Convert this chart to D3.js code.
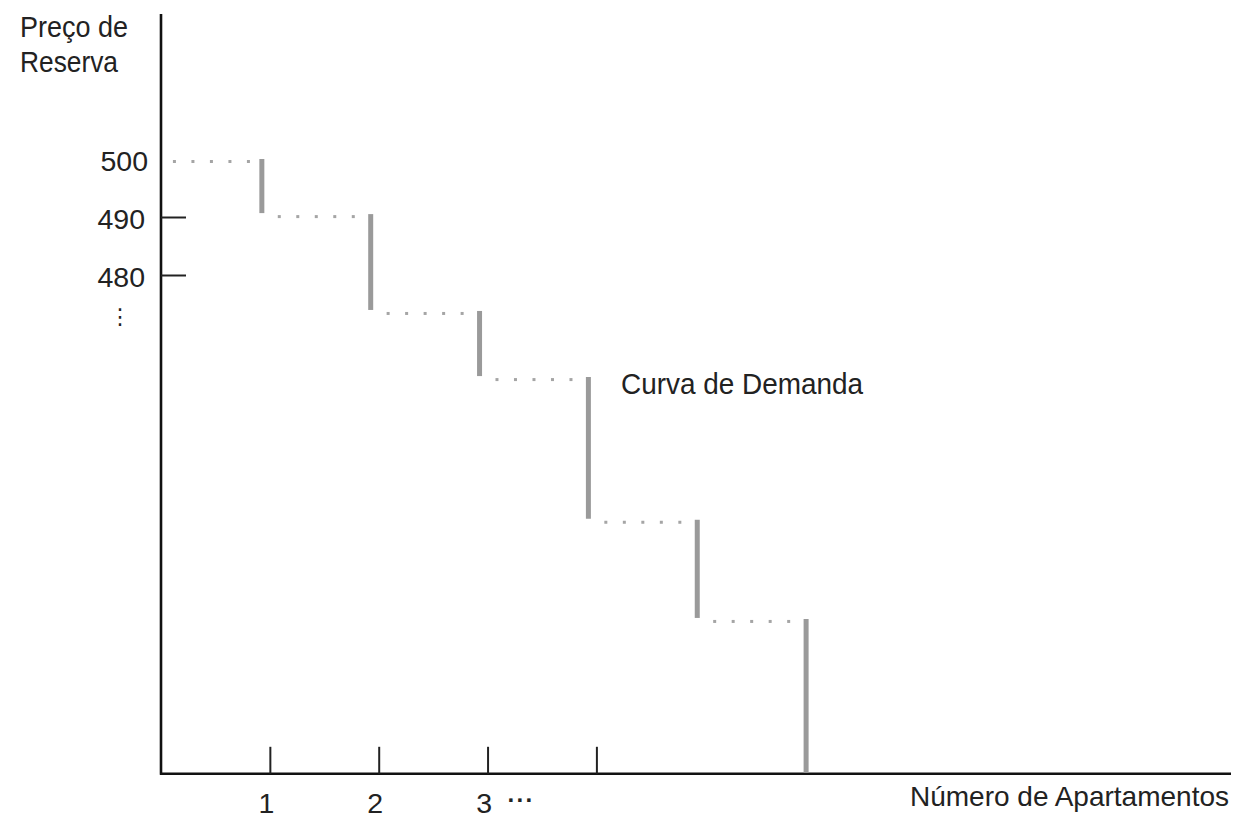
<!DOCTYPE html>
<html>
<head>
<meta charset="utf-8">
<script src="https://cdn.jsdelivr.net/npm/d3@7"></script>
<style>
  html, body { margin: 0; padding: 0; background: #fff; }
  svg { display: block; }
  text { font-family: "Liberation Sans", Arial, Helvetica, sans-serif; fill: #222; }
</style>
</head>
<body>
<svg id="chart" width="1244" height="821"></svg>
<script>
// ---- data ----
const apartments = [1, 2, 3, 4, 5, 6];                       // step positions (number of apartments)
const reservePrices = [500, 490.5, 473.8, 462.4, 437.8, 420.7]; // price level of each step
const priceFloor = 394;                                       // price at the horizontal axis
const priceTop = 525;                                         // price at top of vertical axis
const yTickValues = [500, 490, 480];
const yTickMarks = [490, 480];
const xTickValues = [1, 2, 3, 4];
const xTickLabels = ["1", "2", "3", ""];
const yAxisTitle = ["Preço de", "Reserva"];
const xAxisTitle = "Número de Apartamentos";
const curveLabel = "Curva de Demanda";

// ---- scales ----
const svg = d3.select("#chart");
const x = d3.scaleLinear().domain([0, 9.83]).range([161, 1231]);
const y = d3.scaleLinear().domain([480, 500]).range([275, 159]);
const x0 = x(0), yBase = y(priceFloor);
const barShift = -8;
const fs = 30, tfs = 28.5;

// ---- axes lines ----
svg.append("line").attr("x1", x0).attr("x2", x0).attr("y1", y(priceTop)).attr("y2", yBase + 1)
  .attr("stroke", "#111").attr("stroke-width", 2.6);
svg.append("line").attr("x1", x0 - 1).attr("x2", x(9.83)).attr("y1", yBase).attr("y2", yBase)
  .attr("stroke", "#111").attr("stroke-width", 2.6);

// ---- y axis ticks ----
const yAxis = d3.axisLeft(y).tickValues(yTickValues).tickSize(-25).tickPadding(16)
  .tickFormat(d3.format("d"));
const gy = svg.append("g").attr("transform", `translate(${x0},0)`).call(yAxis);
gy.select(".domain").remove();
gy.selectAll(".tick line").attr("stroke", "#222").attr("stroke-width", 2)
  .filter(d => !yTickMarks.includes(d)).remove();
gy.selectAll(".tick text").attr("font-size", tfs).attr("font-family", null).attr("fill", "#222")
  .attr("dy", "0.42em").attr("dx", d => d === 500 ? 3 : 0);

// vertical ellipsis under y labels
svg.append("text").attr("x", 120).attr("y", 324).attr("text-anchor", "middle")
  .attr("font-size", 22).style("font-family", "'DejaVu Sans', sans-serif").attr("fill", "#555").text("⋮");

// ---- x axis ticks ----
const xAxis = d3.axisBottom(x).tickValues(xTickValues).tickSize(-27).tickPadding(19)
  .tickFormat((d, i) => xTickLabels[i]);
const gx = svg.append("g").attr("transform", `translate(0,${yBase})`).call(xAxis);
gx.select(".domain").remove();
gx.selectAll(".tick line").attr("stroke", "#222").attr("stroke-width", 2);
gx.selectAll(".tick text").attr("font-size", tfs).attr("font-family", null).attr("fill", "#222").attr("dx", -4);
svg.append("text").attr("x", x(3) + 20).attr("y", yBase + 34).attr("font-size", 24)
  .attr("font-weight", "bold").attr("fill", "#555").attr("letter-spacing", 1).text("···");

// ---- demand curve: vertical bars ----
const steps = apartments.map((a, i) => ({
  a, top: reservePrices[i],
  bottom: i + 1 < reservePrices.length ? reservePrices[i + 1] : priceFloor
}));
svg.append("g").selectAll("line").data(steps).join("line")
  .attr("x1", d => x(d.a) + barShift).attr("x2", d => x(d.a) + barShift)
  .attr("y1", d => y(d.top)).attr("y2", d => y(d.bottom) - 1)
  .attr("stroke", "#9a9a9a").attr("stroke-width", 5);

// ---- demand curve: dotted horizontal segments ----
const segs = reservePrices.map((p, i) => ({
  p, xa: i === 0 ? x0 : x(apartments[i - 1]) + barShift, xb: x(apartments[i]) + barShift
}));
const dots = [];
segs.forEach(s => {
  const mid = (s.xa + s.xb) / 2;
  d3.range(-2, 3).forEach(k => dots.push({ cx: mid + k * 18.5, p: s.p }));
});
svg.append("g").selectAll("rect").data(dots).join("rect")
  .attr("x", d => d.cx - 1.5).attr("y", d => y(d.p) + 1).attr("width", 3).attr("height", 3)
  .attr("fill", "#a5a5a5");

// ---- labels ----
function label(txt, xx, yy, len, anchor) {
  return svg.append("text").attr("x", xx).attr("y", yy).attr("font-size", fs)
    .attr("text-anchor", anchor || "start")
    .attr("textLength", len).attr("lengthAdjust", "spacingAndGlyphs").text(txt);
}
label(curveLabel, 621, 394, 242);
svg.append("text").attr("x", 1229).attr("y", 806).attr("text-anchor", "end")
  .attr("font-size", 28).text(xAxisTitle);
label(yAxisTitle[0], 20, 37, 108);
label(yAxisTitle[1], 20, 72, 98);
</script>
</body>
</html>
